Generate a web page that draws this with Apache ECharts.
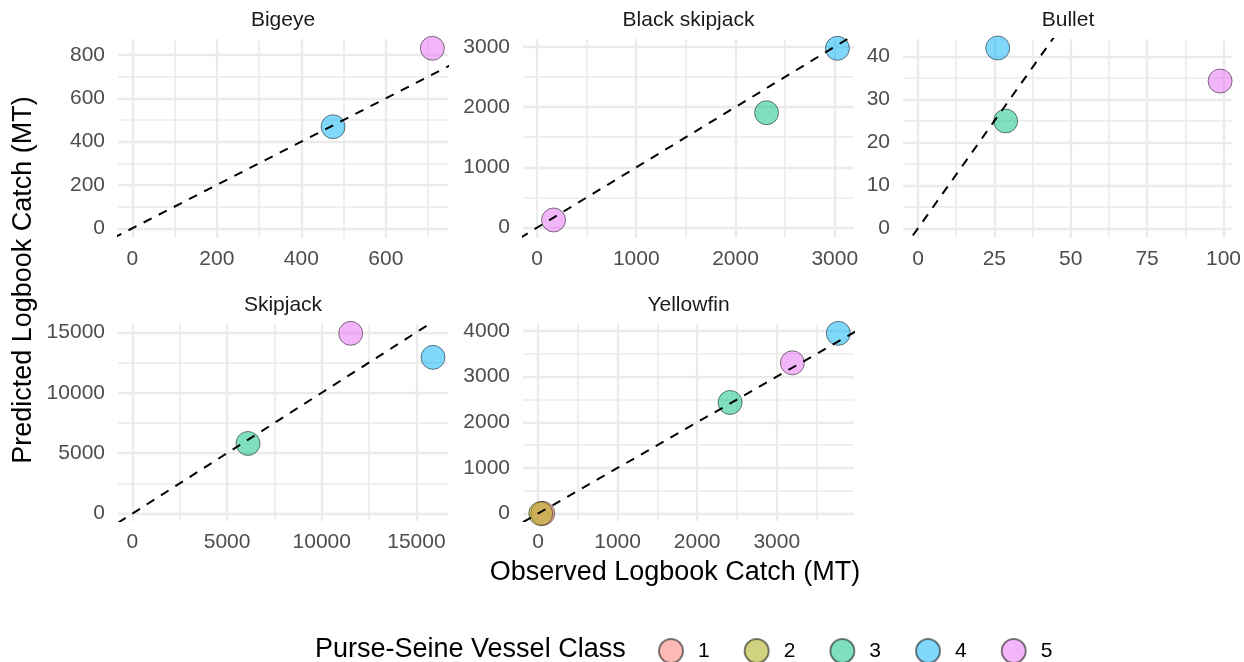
<!DOCTYPE html>
<html>
<head>
<meta charset="utf-8">
<script src="https://cdn.jsdelivr.net/npm/echarts@6/dist/echarts.min.js"></script>
<style>
html,body{margin:0;padding:0;background:#fff;}
#chart{width:1244px;height:662px;}
</style>
</head>
<body>
<div id="chart"></div>
<script>
// ---- data ----
const panelNames = ['Bigeye', 'Black skipjack', 'Bullet', 'Skipjack', 'Yellowfin'];
const classNames = ['1', '2', '3', '4', '5'];

// observed / predicted per vessel class (index 0..4 = class 1..5), null = absent
const bigeyeObserved = [null, null, null, 475, 710];
const bigeyePredicted = [null, null, null, 469, 831];
const blackSkipjackObserved = [null, null, 2313, 3027, 167];
const blackSkipjackPredicted = [null, null, 1906, 2973, 128];
const bulletObserved = [null, null, 28.7, 26.1, 98.9];
const bulletPredicted = [null, null, 25.0, 42.0, 34.3];
const skipjackObserved = [null, null, 6106, 15877, 11530];
const skipjackPredicted = [null, null, 5801, 12928, 14917];
const yellowfinObserved = [60, 35, 2414, 3773, 3196];
const yellowfinPredicted = [5, 0, 2435, 3949, 3304];

// axis ranges and tick labels
const xLimits = [[-34, 747], [-141, 3194], [-4.9, 103], [-760, 16669], [-188, 3970]];
const yLimits = [[-45, 874], [-171, 3128], [-2.26, 44.1], [-613, 15688], [-162, 4154]];
const xMajorTicks = [[0, 200, 400, 600], [0, 1000, 2000, 3000], [0, 25, 50, 75, 100], [0, 5000, 10000, 15000], [0, 1000, 2000, 3000]];
const yMajorTicks = [[0, 200, 400, 600, 800], [0, 1000, 2000, 3000], [0, 10, 20, 30, 40], [0, 5000, 10000, 15000], [0, 1000, 2000, 3000, 4000]];
const xMinorTicks = [[100, 300, 500, 700], [500, 1500, 2500], [12.5, 37.5, 62.5, 87.5], [2500, 7500, 12500], [500, 1500, 2500, 3500]];
const yMinorTicks = [[100, 300, 500, 700], [500, 1500, 2500], [5, 15, 25, 35], [2500, 7500, 12500], [500, 1500, 2500, 3500]];

const xTitle = 'Observed Logbook Catch (MT)';
const yTitle = 'Predicted Logbook Catch (MT)';
const legendTitle = 'Purse-Seine Vessel Class';

// ---- styles / layout ----
const observedByPanel = [bigeyeObserved, blackSkipjackObserved, bulletObserved, skipjackObserved, yellowfinObserved];
const predictedByPanel = [bigeyePredicted, blackSkipjackPredicted, bulletPredicted, skipjackPredicted, yellowfinPredicted];
const classColors = ['rgba(248,118,109,0.5)', 'rgba(163,165,0,0.5)', 'rgba(0,191,125,0.5)', 'rgba(0,176,246,0.5)', 'rgba(231,107,243,0.5)'];
const gridRects = [[118, 39, 330, 199], [523, 39, 331, 199], [903, 39, 330, 199], [118, 324, 330, 197], [523, 324, 331, 197]];
const FONT = 'Liberation Sans, Arial, sans-serif';
const GRID_COLOR = '#ebebeb';
const plainNumber = v => String(v);

const grids = [], xAxes = [], yAxes = [], series = [], graphics = [];

gridRects.forEach((r, i) => {
  grids.push({left: r[0], top: r[1], width: r[2], height: r[3], containLabel: false});
  const baseX = {type: 'value', gridIndex: i, position: 'bottom', offset: 0, axisLine: {show: false, onZero: false}};
  const baseY = {type: 'value', gridIndex: i, position: 'left', offset: 0, axisLine: {show: false, onZero: false}};
  // minor grid
  xAxes.push(Object.assign({}, baseX, {
    min: xLimits[i][0], max: xLimits[i][1],
    axisTick: {show: false, customValues: xMinorTicks[i]},
    axisLabel: {show: false},
    splitLine: {show: true, lineStyle: {color: GRID_COLOR, width: 1.6}}
  }));
  // major grid + labels
  xAxes.push(Object.assign({}, baseX, {
    min: xLimits[i][0], max: xLimits[i][1],
    axisTick: {show: false, customValues: xMajorTicks[i]},
    axisLabel: {show: true, customValues: xMajorTicks[i], formatter: plainNumber, color: '#4d4d4d', fontSize: 21, fontFamily: FONT, margin: 11},
    splitLine: {show: true, lineStyle: {color: GRID_COLOR, width: 2.4}}
  }));
  yAxes.push(Object.assign({}, baseY, {
    min: yLimits[i][0], max: yLimits[i][1],
    axisTick: {show: false, customValues: yMinorTicks[i]},
    axisLabel: {show: false},
    splitLine: {show: true, lineStyle: {color: GRID_COLOR, width: 1.6}}
  }));
  yAxes.push(Object.assign({}, baseY, {
    min: yLimits[i][0], max: yLimits[i][1],
    axisTick: {show: false, customValues: yMajorTicks[i]},
    axisLabel: {show: true, customValues: yMajorTicks[i], formatter: plainNumber, color: '#4d4d4d', fontSize: 21, fontFamily: FONT, margin: 13},
    splitLine: {show: true, lineStyle: {color: GRID_COLOR, width: 2.4}}
  }));

  classNames.forEach((c, k) => {
    const ox = observedByPanel[i][k], py = predictedByPanel[i][k];
    if (ox === null || py === null) return;
    series.push({
      type: 'scatter', name: c,
      xAxisIndex: 2 * i + 1, yAxisIndex: 2 * i + 1,
      data: [[ox, py]],
      symbol: 'circle', symbolSize: 24,
      itemStyle: {color: classColors[k], borderColor: 'rgba(0,0,0,0.5)', borderWidth: 1, opacity: 1},
      emphasis: {disabled: true},
      z: 3
    });
  });

  const lo = Math.min(xLimits[i][0], yLimits[i][0]);
  const hi = Math.max(xLimits[i][1], yLimits[i][1]);
  series.push({
    type: 'line', name: 'identity',
    xAxisIndex: 2 * i + 1, yAxisIndex: 2 * i + 1,
    data: [[lo, lo], [hi, hi]],
    symbol: 'none', clip: true, silent: true,
    lineStyle: {color: '#000', width: 2, type: [9, 8]},
    z: 4
  });

  graphics.push({
    type: 'text', x: r[0] + r[2] / 2, y: r[1] - 19,
    style: {text: panelNames[i], fill: '#1a1a1a', font: '21px ' + FONT, align: 'center', verticalAlign: 'middle'}
  });
});

graphics.push({
  type: 'text', x: 675, y: 573,
  style: {text: xTitle, fill: '#000', font: '27px ' + FONT, align: 'center', verticalAlign: 'middle'}
});
graphics.push({
  type: 'text', x: 24, y: 280, rotation: Math.PI / 2,
  style: {text: yTitle, fill: '#000', font: '27px ' + FONT, align: 'center', verticalAlign: 'middle'}
});
graphics.push({
  type: 'text', x: 315, y: 650,
  style: {text: legendTitle, fill: '#000', font: '27px ' + FONT, align: 'left', verticalAlign: 'middle'}
});

const option = {
  animation: false,
  backgroundColor: '#fff',
  grid: grids,
  xAxis: xAxes,
  yAxis: yAxes,
  series: series,
  graphic: graphics,
  legend: {
    data: classNames,
    left: 658, top: 638,
    padding: 0,
    orient: 'horizontal',
    icon: 'circle',
    itemWidth: 24, itemHeight: 24,
    itemGap: 34,
    selectedMode: false,
    textStyle: {fontSize: 21, fontFamily: FONT, color: '#000', padding: [0, 0, 0, 10]}
  }
};

const chart = echarts.init(document.getElementById('chart'), null, {renderer: 'canvas'});
chart.setOption(option);
</script>
</body>
</html>
